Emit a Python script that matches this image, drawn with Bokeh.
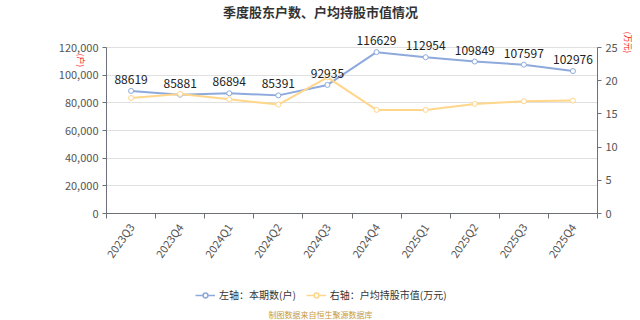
import math
from bokeh.plotting import figure
from bokeh.models import (ColumnDataSource, Range1d, LinearAxis, FixedTicker, NumeralTickFormatter,
                          Label, Legend, LegendItem, Grid)
from bokeh.embed import file_html
from bokeh.resources import INLINE

quarters = ["2023Q3", "2023Q4", "2024Q1", "2024Q2", "2024Q3", "2024Q4", "2025Q1", "2025Q2", "2025Q3", "2025Q4"]
holders = [88619, 85881, 86894, 85391, 92935, 116629, 112954, 109849, 107597, 102976]
avg_value = [17.4, 18.0, 17.2, 16.4, 20.5, 15.6, 15.6, 16.5, 16.9, 17.0]
left_ticks = [0, 20000, 40000, 60000, 80000, 100000, 120000]
right_ticks = [0, 5, 10, 15, 20, 25]

FONT = "Noto Sans CJK SC"
BLUE = "#8eaadc"
YELLOW = "#ffd68a"
AXIS = "#6e7079"

W, H = 640, 320
# plot-area pixel box (canvas coords, from top-left)
PX0, PX1, PY_TOP, PY_BOT = 106, 597, 47, 213
n = len(quarters)
LMAX, RMAX = left_ticks[-1], right_ticks[-1]

ppx = (PX1 - PX0) / n
x_start = -PX0 / ppx
x_end = n + (W - PX1) / ppx
lpp = LMAX / (PY_BOT - PY_TOP)
rpp = RMAX / (PY_BOT - PY_TOP)
y_start = -(H - PY_BOT) * lpp
y_end = LMAX + PY_TOP * lpp
r_start = -(H - PY_BOT) * rpp
r_end = RMAX + PY_TOP * rpp

xs = [i + 0.5 for i in range(n)]
src = ColumnDataSource(dict(x=xs, q=quarters, h=holders, v=avg_value))

p = figure(width=W, height=H, output_backend="svg", toolbar_location=None,
           x_range=Range1d(x_start, x_end), y_range=Range1d(y_start, y_end),
           x_axis_location=None, y_axis_location=None,
           min_border=0, min_border_left=0, min_border_right=0, min_border_top=0, min_border_bottom=0)
p.extra_y_ranges = {"r": Range1d(r_start, r_end)}
p.outline_line_color = None
p.background_fill_color = "white"
p.border_fill_color = "white"
for g in p.grid:
    g.visible = False

# horizontal grid lines
grid = Grid(dimension=1, ticker=FixedTicker(ticks=left_ticks), bounds=(0, LMAX), cross_bounds=(0, n),
            grid_line_color="#e0e0e0")
p.add_layout(grid, "center")


def style(ax):
    ax.minor_tick_line_color = None
    ax.major_tick_in = 0
    ax.major_tick_out = 4
    ax.axis_line_color = AXIS
    ax.major_tick_line_color = AXIS
    ax.major_label_text_font = FONT
    ax.major_label_text_font_size = "11px"
    ax.major_label_text_color = "#555555"
    ax.major_label_standoff = 4


# x axis
xa = LinearAxis(ticker=FixedTicker(ticks=xs, minor_ticks=list(range(n + 1))), fixed_location=0, bounds=(0, n))
style(xa)
xa.major_label_overrides = {x: q for x, q in zip(xs, quarters)}
xa.major_tick_out = 0
xa.minor_tick_out = 5
xa.minor_tick_in = 0
xa.minor_tick_line_color = AXIS
xa.major_label_orientation = math.radians(55)
xa.major_label_standoff = 6
p.add_layout(xa, "below")

# left y axis
la = LinearAxis(ticker=FixedTicker(ticks=left_ticks), formatter=NumeralTickFormatter(format="0,0"),
                fixed_location=0, bounds=(0, LMAX))
style(la)
p.add_layout(la, "left")

# right y axis
ra = LinearAxis(y_range_name="r", ticker=FixedTicker(ticks=right_ticks), fixed_location=n, bounds=(0, RMAX))
style(ra)
p.add_layout(ra, "right")

l1 = p.line("x", "h", source=src, line_color=BLUE, line_width=2)
c1 = p.scatter("x", "h", source=src, size=5, fill_color="white", line_color=BLUE, line_width=1)
l2 = p.line("x", "v", source=src, y_range_name="r", line_color=YELLOW, line_width=2)
c2 = p.scatter("x", "v", source=src, y_range_name="r", size=5, fill_color="white", line_color=YELLOW, line_width=1)

# legend icon proxies (a single NaN point: nothing drawn in the plot, only in the legend)
proxy = ColumnDataSource(dict(x=[float("nan")], y=[float("nan")]))
g1l = p.line("x", "y", source=proxy, line_color=BLUE, line_width=1.5)
g1c = p.scatter("x", "y", source=proxy, size=10, fill_color="white", line_color=BLUE, line_width=1.5)
g2l = p.line("x", "y", source=proxy, line_color=YELLOW, line_width=1.5)
g2c = p.scatter("x", "y", source=proxy, size=10, fill_color="white", line_color=YELLOW, line_width=1.5)

for x, h in zip(xs, holders):
    p.add_layout(Label(x=x, y=h, y_offset=7, text=str(h), text_align="center",
                       text_baseline="bottom", text_font=FONT, text_font_size="12px", text_color="#222222"))

legend = Legend(items=[LegendItem(label="左轴：本期数(户)", renderers=[g1l, g1c]),
                       LegendItem(label="右轴：户均持股市值(万元)", renderers=[g2l, g2c])],
                orientation="horizontal", location=(195, 18), border_line_color=None,
                background_fill_alpha=0, label_text_font=FONT, label_text_font_size="10px",
                label_text_color="#333333", glyph_width=20, glyph_height=12, spacing=10, padding=0, margin=0,
                label_standoff=4)
p.add_layout(legend, "center")

p.add_layout(Label(x=320, y=H - 11, x_units="screen", y_units="screen", text="季度股东户数、户均持股市值情况",
                   text_align="center", text_baseline="middle", text_font=FONT, text_font_size="13px",
                   text_font_style="bold", text_color="#333333"))
p.add_layout(Label(x=81, y=H - 60, x_units="screen", y_units="screen", text="(户)", angle=-math.pi / 2,
                   text_align="center", text_baseline="middle", text_font=FONT, text_font_size="8px",
                   text_color="red"))
p.add_layout(Label(x=628, y=H - 42, x_units="screen", y_units="screen", text="(万元)", angle=-math.pi / 2,
                   text_align="center", text_baseline="middle", text_font=FONT, text_font_size="8px",
                   text_color="red"))
p.add_layout(Label(x=320, y=6, x_units="screen", y_units="screen", text="制图数据来自恒生聚源数据库",
                   text_align="center", text_baseline="middle", text_font=FONT, text_font_size="8px",
                   text_color="#c89b3c"))

open("out.html", "w").write(file_html(p, INLINE))
